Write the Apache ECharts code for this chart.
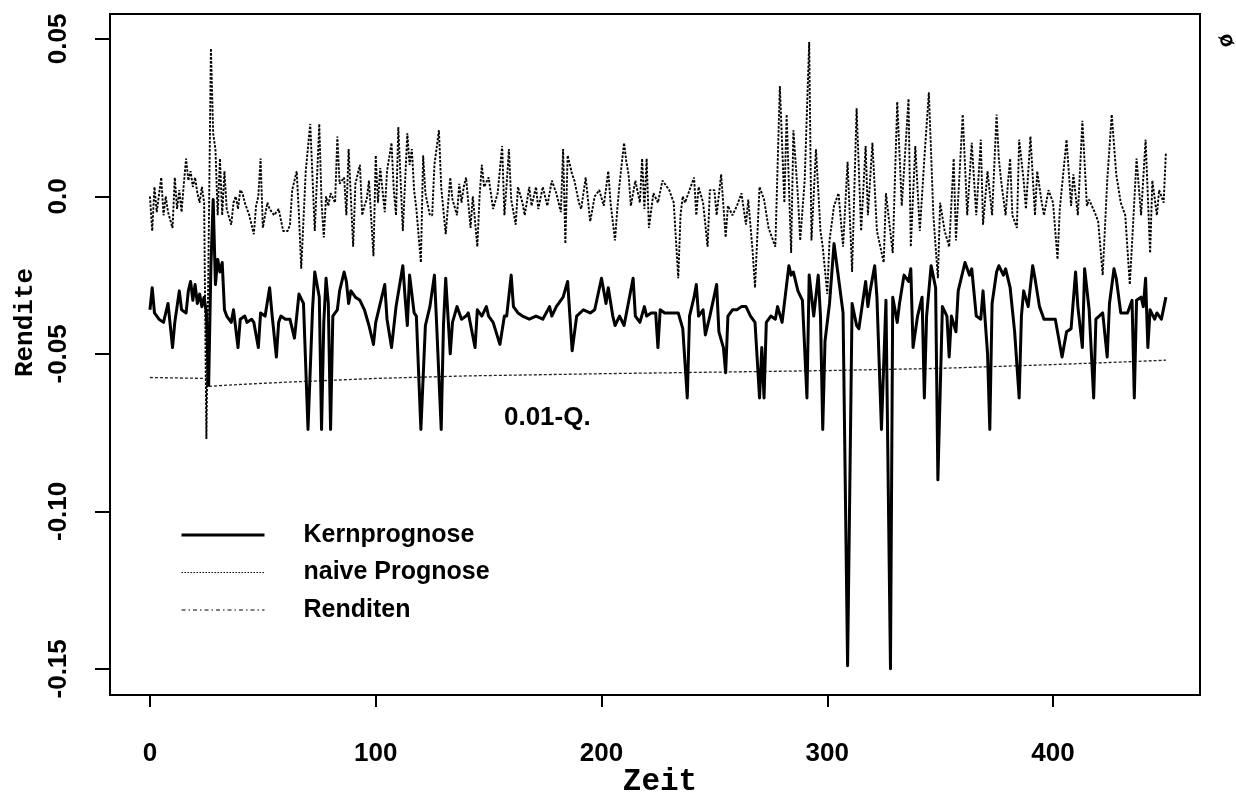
<!DOCTYPE html>
<html>
<head>
<meta charset="utf-8">
<script src="https://cdn.jsdelivr.net/npm/echarts@6/dist/echarts.min.js"></script>
<style>
html,body{margin:0;padding:0;background:#fff;}
#chart{width:1236px;height:795px;}
</style>
</head>
<body>
<div id="chart"></div>
<script>
// ---- data ----
const xTicks = [0, 100, 200, 300, 400];
const xTickLabels = ['0', '100', '200', '300', '400'];
const yTicks = [-0.15, -0.10, -0.05, 0.0, 0.05];
const yTickLabels = ['-0.15', '-0.10', '-0.05', '0.0', '0.05'];
const seriesNames = ['Kernprognose', 'naive Prognose', 'Renditen'];
const quantileLabel = '0.01-Q.';
const quantileLabelAt = [176, -0.0703];

const kernprognose = [
[0,-0.036],[1,-0.029],[2,-0.037],[4,-0.039],[6,-0.040],[8,-0.034],[10,-0.048],[11,-0.040],[13,-0.030],[14,-0.036],
[16,-0.037],[17,-0.030],[18,-0.027],[19,-0.033],[20,-0.028],[21,-0.034],[22,-0.031],[23,-0.035],[24,-0.032],[25,-0.037],
[26,-0.060],[27,-0.022],[28,-0.001],[29,-0.028],[30,-0.020],[31,-0.024],[32,-0.021],[33,-0.036],[34,-0.038],[36,-0.040],
[37,-0.036],[39,-0.048],[40,-0.039],[42,-0.038],[43,-0.040],[45,-0.039],[46,-0.040],[48,-0.048],[49,-0.037],[51,-0.038],
[53,-0.029],[54,-0.037],[56,-0.051],[57,-0.040],[58,-0.038],[60,-0.039],[62,-0.039],[64,-0.045],[66,-0.031],[68,-0.034],
[70,-0.074],[72,-0.036],[73,-0.024],[75,-0.032],[76,-0.074],[77,-0.040],[78,-0.026],[79,-0.034],[80,-0.074],[81,-0.038],
[82,-0.037],[83,-0.036],[84,-0.030],[86,-0.024],[87,-0.027],[88,-0.034],[89,-0.030],[91,-0.032],[93,-0.033],[95,-0.036],
[97,-0.041],[99,-0.047],[100,-0.040],[102,-0.034],[104,-0.028],[105,-0.039],[107,-0.048],[109,-0.035],[112,-0.022],[113,-0.032],
[114,-0.041],[115,-0.025],[117,-0.037],[118,-0.038],[120,-0.074],[122,-0.041],[124,-0.035],[126,-0.025],[127,-0.041],[129,-0.074],
[130,-0.041],[131,-0.026],[133,-0.050],[134,-0.040],[136,-0.035],[138,-0.039],[140,-0.038],[141,-0.037],[144,-0.048],[145,-0.036],
[147,-0.038],[149,-0.035],[150,-0.038],[152,-0.040],[155,-0.047],[157,-0.038],[158,-0.038],[160,-0.025],[161,-0.035],[163,-0.037],
[165,-0.038],[168,-0.039],[171,-0.038],[174,-0.039],[177,-0.035],[178,-0.038],[180,-0.035],[183,-0.032],[185,-0.027],[187,-0.049],
[189,-0.038],[192,-0.036],[195,-0.037],[197,-0.036],[200,-0.026],[202,-0.034],[203,-0.029],[205,-0.038],[206,-0.041],[208,-0.038],
[210,-0.041],[214,-0.026],[215,-0.038],[217,-0.040],[219,-0.035],[220,-0.038],[222,-0.037],[224,-0.037],[225,-0.048],[226,-0.036],
[228,-0.037],[230,-0.037],[232,-0.037],[234,-0.037],[236,-0.042],[238,-0.064],[239,-0.038],[241,-0.032],[242,-0.028],[243,-0.038],
[245,-0.036],[246,-0.044],[248,-0.038],[251,-0.028],[252,-0.043],[254,-0.048],[255,-0.056],[256,-0.038],[258,-0.036],[260,-0.036],
[262,-0.035],[264,-0.035],[266,-0.038],[268,-0.040],[270,-0.064],[271,-0.048],[272,-0.064],[273,-0.040],[275,-0.038],[277,-0.039],
[278,-0.035],[280,-0.040],[283,-0.022],[284,-0.025],[285,-0.024],[287,-0.030],[289,-0.033],[291,-0.064],[292,-0.025],[294,-0.038],
[296,-0.025],[297,-0.038],[298,-0.074],[299,-0.046],[301,-0.034],[303,-0.015],[305,-0.026],[307,-0.037],[309,-0.149],[311,-0.034],
[313,-0.041],[314,-0.042],[317,-0.027],[318,-0.035],[319,-0.030],[321,-0.022],[322,-0.032],[324,-0.074],[326,-0.033],[328,-0.150],
[329,-0.032],[331,-0.040],[332,-0.034],[334,-0.025],[336,-0.027],[337,-0.023],[338,-0.048],[340,-0.038],[342,-0.032],[343,-0.064],
[344,-0.038],[346,-0.022],[348,-0.029],[349,-0.090],[351,-0.035],[353,-0.038],[354,-0.051],[355,-0.038],[357,-0.043],[358,-0.030],
[361,-0.021],[363,-0.025],[364,-0.023],[366,-0.038],[368,-0.039],[369,-0.030],[371,-0.050],[372,-0.074],[373,-0.034],[375,-0.024],
[376,-0.022],[378,-0.025],[379,-0.023],[381,-0.029],[383,-0.043],[385,-0.064],[386,-0.038],[387,-0.030],[389,-0.035],[391,-0.022],
[392,-0.026],[394,-0.035],[396,-0.039],[398,-0.039],[401,-0.039],[404,-0.051],[406,-0.043],[408,-0.042],[410,-0.024],[411,-0.035],
[413,-0.048],[414,-0.023],[416,-0.036],[418,-0.064],[419,-0.039],[422,-0.037],[424,-0.051],[425,-0.034],[427,-0.023],[428,-0.026],
[430,-0.037],[433,-0.037],[435,-0.033],[436,-0.064],[437,-0.033],[439,-0.032],[440,-0.035],[441,-0.026],[442,-0.048],[443,-0.036],
[445,-0.039],[446,-0.037],[448,-0.039],[450,-0.032]
];

const naivePrognose = [
[0,-0.0575],[25,-0.0578],[26,-0.0603],[40,-0.0597],[60,-0.0590],[80,-0.0584],[100,-0.0578],[140,-0.0570],
[200,-0.0563],[250,-0.0558],[300,-0.0553],[350,-0.0546],[400,-0.0534],[430,-0.0526],[450,-0.0520]
];

const renditen = [
[0,0.000],[1,-0.011],[2,0.003],[3,-0.005],[5,0.006],[6,-0.006],[7,0.000],[8,-0.005],[10,-0.010],[11,0.006],
[12,-0.004],[13,0.002],[14,-0.005],[15,0.004],[16,0.012],[17,0.005],[18,0.008],[19,0.003],[20,0.006],[21,0.001],
[22,-0.002],[23,0.003],[24,-0.002],[25,-0.077],[27,0.047],[28,0.020],[29,0.015],[30,-0.006],[31,0.012],[32,-0.006],
[33,0.008],[34,-0.004],[36,-0.009],[37,-0.002],[38,0.000],[39,-0.004],[40,0.002],[41,0.001],[42,-0.002],[43,-0.004],
[44,-0.006],[46,-0.012],[47,-0.003],[48,0.000],[49,0.012],[50,-0.010],[52,-0.002],[53,-0.004],[55,-0.006],[57,-0.004],
[59,-0.011],[61,-0.011],[62,-0.009],[63,0.002],[65,0.008],[66,-0.006],[67,-0.023],[69,0.008],[71,0.023],[73,-0.011],
[75,0.023],[76,-0.002],[77,-0.013],[78,0.000],[79,-0.003],[80,0.001],[82,-0.002],[83,0.019],[84,0.004],[86,0.006],
[87,-0.006],[88,0.015],[90,-0.016],[91,0.004],[93,0.010],[94,-0.006],[95,-0.003],[96,-0.001],[97,0.005],[99,-0.019],
[100,0.013],[101,-0.002],[102,0.009],[104,-0.005],[105,0.008],[107,0.017],[108,0.002],[109,-0.006],[110,0.022],[112,-0.011],
[114,0.020],[115,0.010],[116,0.015],[117,0.002],[118,-0.004],[120,-0.021],[121,0.013],[122,0.001],[124,-0.006],[125,-0.006],
[126,0.010],[128,0.021],[129,0.003],[131,-0.012],[133,0.006],[134,-0.001],[136,-0.006],[137,0.004],[138,-0.002],[139,0.003],
[140,0.006],[142,-0.010],[143,0.000],[145,-0.016],[146,0.000],[147,0.010],[148,0.003],[150,0.006],[152,-0.004],[154,0.001],
[156,0.016],[157,-0.006],[158,0.004],[159,0.015],[160,-0.001],[162,-0.009],[163,0.003],[165,-0.002],[166,-0.006],[168,0.003],
[169,-0.003],[171,0.003],[172,-0.004],[174,0.003],[176,-0.003],[178,0.005],[180,0.001],[182,-0.005],[183,0.015],[184,-0.015],
[185,0.013],[187,0.007],[188,0.005],[190,-0.002],[191,-0.004],[193,0.006],[195,-0.008],[197,0.000],[199,0.002],[201,-0.003],
[203,0.008],[204,-0.002],[206,-0.014],[207,-0.004],[208,0.004],[210,0.017],[211,0.011],[212,0.007],[213,-0.003],[215,0.005],
[217,-0.002],[218,0.012],[219,-0.004],[220,0.012],[221,-0.010],[223,0.001],[225,-0.002],[227,0.005],[228,0.004],[230,0.002],
[232,-0.002],[234,-0.026],[235,-0.006],[236,0.000],[237,-0.002],[239,0.002],[241,0.006],[242,-0.006],[243,0.003],[245,-0.002],
[247,-0.016],[248,0.002],[250,0.002],[251,-0.006],[253,0.007],[255,-0.013],[256,-0.003],[258,-0.006],[260,-0.003],[262,0.001],
[264,-0.009],[265,-0.001],[267,-0.018],[268,-0.029],[270,0.003],[272,-0.001],[274,-0.010],[277,-0.016],[279,0.035],[281,-0.002],
[282,0.026],[284,-0.018],[285,0.021],[287,0.000],[288,-0.014],[290,0.005],[292,0.049],[293,-0.014],[295,0.015],[297,-0.011],
[298,-0.016],[300,-0.031],[301,-0.014],[303,-0.003],[305,0.001],[307,-0.016],[309,0.011],[311,-0.024],[313,0.028],[315,-0.011],
[317,0.016],[318,-0.006],[320,0.017],[322,-0.011],[325,-0.021],[326,0.001],[329,-0.018],[331,0.030],[333,-0.003],[336,0.031],
[337,-0.016],[339,0.016],[341,-0.011],[343,0.012],[345,0.033],[347,-0.006],[349,-0.026],[350,-0.002],[352,-0.011],[354,-0.016],
[356,0.012],[357,-0.014],[360,0.026],[362,-0.006],[364,0.017],[366,-0.006],[368,0.018],[369,-0.009],[371,0.008],[373,-0.006],
[375,0.026],[376,0.012],[377,0.005],[379,-0.006],[380,0.004],[381,0.012],[382,-0.006],[384,-0.010],[385,0.018],[387,0.005],
[388,-0.004],[390,0.019],[392,-0.006],[393,0.008],[395,-0.002],[396,-0.006],[398,0.002],[400,-0.002],[402,-0.020],[403,-0.004],
[406,0.018],[408,-0.003],[409,0.007],[411,-0.006],[413,0.024],[415,-0.003],[416,-0.001],[419,-0.006],[420,-0.008],[422,-0.025],
[424,0.005],[426,0.026],[428,0.007],[430,-0.002],[432,-0.006],[434,-0.028],[435,-0.015],[437,0.012],[439,-0.006],[441,0.018],
[443,-0.018],[444,0.005],[446,-0.006],[447,0.002],[449,-0.002],[450,0.014]
];

// ---- chart ----
function fmt(ticks, labels) {
  return function (v) {
    for (let i = 0; i < ticks.length; i++) {
      if (Math.abs(ticks[i] - v) < 1e-9) return labels[i];
    }
    return '';
  };
}

const chart = echarts.init(document.getElementById('chart'), null, {renderer: 'canvas'});
const tickFont = {color: '#000', fontFamily: 'Liberation Sans', fontWeight: 'bold', fontSize: 26};

chart.setOption({
  backgroundColor: '#fff',
  animation: false,
  color: ['#000', '#000', '#000'],
  grid: {left: 110, right: 36, top: 14, bottom: 100, outerBoundsMode: 'none', containLabel: false,
         show: true, borderColor: '#000', borderWidth: 2, backgroundColor: 'transparent'},
  xAxis: {
    type: 'value', min: -17.7, max: 465.1,
    name: 'Zeit', nameLocation: 'middle', nameGap: 72, nameMoveOverlap: false,
    nameTextStyle: {color: '#000', fontFamily: 'Liberation Mono', fontWeight: 'bold', fontSize: 31, padding: [0, 0, 0, 10]},
    axisLine: {show: false, onZero: false},
    splitLine: {show: false},
    axisTick: {show: true, customValues: xTicks, length: 12, lineStyle: {color: '#000', width: 2}},
    axisLabel: Object.assign({customValues: xTicks, margin: 46, formatter: fmt(xTicks, xTickLabels)}, tickFont)
  },
  yAxis: {
    type: 'value', min: -0.1583, max: 0.0579,
    name: 'Rendite', nameLocation: 'middle', nameGap: 72, nameMoveOverlap: false,
    nameTextStyle: {color: '#000', fontFamily: 'Liberation Mono', fontWeight: 'bold', fontSize: 26, padding: [0, 0, 0, 64]},
    axisLine: {show: false, onZero: false},
    splitLine: {show: false},
    axisTick: {show: true, customValues: yTicks, length: 15, lineStyle: {color: '#000', width: 2}},
    axisLabel: Object.assign({customValues: yTicks, rotate: 90, margin: 38, formatter: fmt(yTicks, yTickLabels)}, tickFont)
  },
  legend: {
    orient: 'vertical', left: 175, top: 515, itemWidth: 83, itemHeight: 14, itemGap: 7.5,
    selectedMode: false,
    textStyle: {color: '#000', fontFamily: 'Liberation Sans', fontWeight: 'bold', fontSize: 25, lineHeight: 30, padding: [0, 0, 0, 34]},
    data: [
      {name: seriesNames[0], itemStyle: {opacity: 0}, lineStyle: {color: '#000', width: 3, type: 'solid', opacity: 1}},
      {name: seriesNames[1], itemStyle: {opacity: 0}, lineStyle: {color: '#000', width: 1.2, type: [1.5, 1.5], opacity: 1}},
      {name: seriesNames[2], itemStyle: {opacity: 0}, lineStyle: {color: '#000', width: 1.2, type: [4, 3, 1.5, 3], opacity: 1}}
    ]
  },
  series: [
    {
      name: seriesNames[2], type: 'line', data: renditen, symbol: 'none', z: 2,
      itemStyle: {color: '#000'},
      lineStyle: {color: '#000', width: 1.9, type: [2.5, 1.5]}
    },
    {
      name: seriesNames[1], type: 'line', data: naivePrognose, symbol: 'none', z: 3,
      itemStyle: {color: '#000'},
      lineStyle: {color: '#222', width: 1.3, type: [3, 2]},
      markPoint: {
        symbol: 'circle', symbolSize: 0, silent: true,
        label: {show: true, position: 'inside', formatter: quantileLabel, color: '#000', fontFamily: 'Liberation Sans', fontWeight: 'bold', fontSize: 26},
        data: [{coord: quantileLabelAt}]
      }
    },
    {
      name: seriesNames[0], type: 'line', data: kernprognose, symbol: 'none', z: 4,
      itemStyle: {color: '#000'},
      lineStyle: {color: '#000', width: 3, join: 'round'}
    }
  ],
  graphic: [
    {type: 'text', left: 1214, top: 30, rotation: -1.2,
     style: {text: 'ø', fill: '#000', font: 'bold 22px "Liberation Sans"'}}
  ]
});
</script>
</body>
</html>
